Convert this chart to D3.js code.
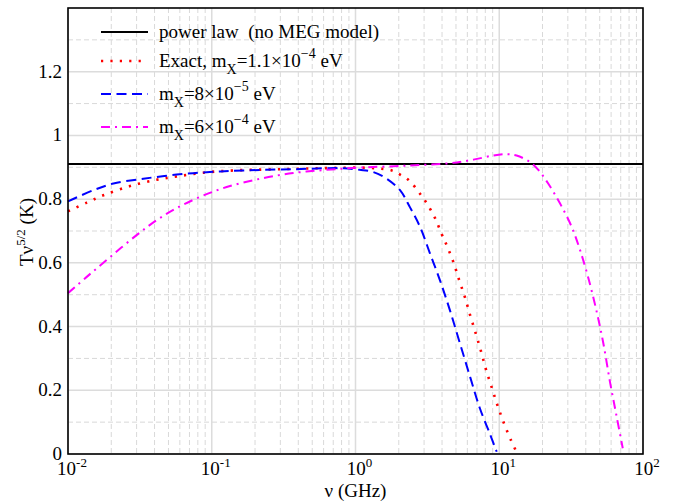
<!DOCTYPE html>
<html>
<head>
<meta charset="utf-8">
<script src="https://cdn.jsdelivr.net/npm/d3@7"></script>
<style>
  body { margin: 0; background: #fff; }
</style>
</head>
<body>
<svg id="chart"></svg>
<script>
// power law reference level
const powerLaw = 0.91;

// exact, m_X = 1.1e-4 eV (red dotted)
const exactNu = [0.01, 0.0135, 0.0176, 0.027, 0.0414, 0.057, 0.0873, 0.141, 0.3, 0.63, 1.26, 1.79, 2.04, 2.33, 2.81, 3.09, 3.57, 3.98, 4.31, 4.79, 5.27, 5.78, 6.27, 6.89, 7.46, 8.09, 8.91, 9.75, 10.8, 12.1, 13.0];
const exactT  = [0.762, 0.789, 0.812, 0.841, 0.861, 0.871, 0.883, 0.890, 0.894, 0.8975, 0.898, 0.890, 0.877, 0.861, 0.817, 0.791, 0.741, 0.690, 0.655, 0.603, 0.545, 0.491, 0.436, 0.376, 0.323, 0.265, 0.206, 0.151, 0.096, 0.042, 0.012];

// m_X = 8e-5 eV (blue dashed)
const lowNu = [0.01, 0.015, 0.0207, 0.0334, 0.057, 0.097, 0.166, 0.369, 0.822, 1.07, 1.33, 1.65, 2.04, 2.39, 2.81, 3.30, 3.87, 4.54, 5.33, 6.27, 7.35, 8.63, 9.6];
const lowT  = [0.793, 0.828, 0.849, 0.864, 0.877, 0.885, 0.890, 0.894, 0.897, 0.892, 0.885, 0.864, 0.828, 0.775, 0.713, 0.629, 0.545, 0.451, 0.347, 0.242, 0.142, 0.062, 0.007];

// m_X = 6e-4 eV (magenta dash-dot)
const highNu = [0.01, 0.0135, 0.0196, 0.030, 0.0414, 0.057, 0.0828, 0.127, 0.217, 0.369, 0.63, 1.07, 2.27, 4.54, 6.61, 9.08, 11.3, 13.2, 16.4, 18.7, 21.9, 26.5, 31.9, 36.5, 41.7, 47.6, 53.0, 59.0, 65.6, 72.3];
const highT  = [0.505, 0.556, 0.618, 0.687, 0.734, 0.772, 0.807, 0.838, 0.864, 0.882, 0.892, 0.899, 0.905, 0.913, 0.924, 0.937, 0.941, 0.937, 0.916, 0.892, 0.849, 0.786, 0.713, 0.64, 0.552, 0.447, 0.347, 0.225, 0.117, 0.018];

const xMajor = [0.01, 0.1, 1, 10, 100];
const xExp = ["-2", "-1", "0", "1", "2"];
const yMajor = [0, 0.2, 0.4, 0.6, 0.8, 1, 1.2];
const yMinor = [0.1, 0.3, 0.5, 0.7, 0.9, 1.1, 1.3];

const width = 675, height = 502;
const margin = { top: 8, right: 32, bottom: 48, left: 68 };
const innerWidth = width - margin.left - margin.right;
const innerHeight = height - margin.top - margin.bottom;
const serif = "'Liberation Serif', 'DejaVu Serif', Times, serif";

const svg = d3.select("#chart").attr("width", width).attr("height", height)
  .style("font-family", serif);
svg.append("rect").attr("width", width).attr("height", height).attr("fill", "#fff");

const g = svg.append("g").attr("transform", `translate(${margin.left},${margin.top})`);

const x = d3.scaleLog().domain([0.01, 100]).range([0, innerWidth]);
const y = d3.scaleLinear().domain([0, 1.4]).range([innerHeight, 0]);

// minor x grid: 2..9 inside each decade
const xMinor = [];
xMajor.slice(0, -1).forEach(d => { for (let k = 2; k <= 9; k++) xMinor.push(d * k); });

g.append("g").selectAll("line").data(xMinor).enter().append("line")
  .attr("x1", d => x(d)).attr("x2", d => x(d)).attr("y1", 0).attr("y2", innerHeight)
  .attr("stroke", "#d9d9d9").attr("stroke-width", 1).attr("stroke-dasharray", "5,3");
g.append("g").selectAll("line").data(yMinor).enter().append("line")
  .attr("x1", 0).attr("x2", innerWidth).attr("y1", d => y(d)).attr("y2", d => y(d))
  .attr("stroke", "#d9d9d9").attr("stroke-width", 1).attr("stroke-dasharray", "5,3");
g.append("g").selectAll("line").data(xMajor).enter().append("line")
  .attr("x1", d => x(d)).attr("x2", d => x(d)).attr("y1", 0).attr("y2", innerHeight)
  .attr("stroke", "#dcdcdc").attr("stroke-width", 1.5);
g.append("g").selectAll("line").data(yMajor).enter().append("line")
  .attr("x1", 0).attr("x2", innerWidth).attr("y1", d => y(d)).attr("y2", d => y(d))
  .attr("stroke", "#dcdcdc").attr("stroke-width", 1.5);

// curves
const line = d3.line().x(d => x(d[0])).y(d => y(d[1])).curve(d3.curveCatmullRom.alpha(0.5));
const series = [
  { nu: exactNu, t: exactT, color: "#ff0000", dash: "2.2,7.2", w: 2.6 },
  { nu: lowNu, t: lowT, color: "#0000ff", dash: "10,5.5", w: 2 },
  { nu: highNu, t: highT, color: "#ff00ff", dash: "9,5,2,5", w: 2 }
];

g.append("line")
  .attr("x1", 0).attr("x2", innerWidth)
  .attr("y1", y(powerLaw)).attr("y2", y(powerLaw))
  .attr("stroke", "#000").attr("stroke-width", 2);

series.forEach(s => {
  g.append("path")
    .datum(d3.zip(s.nu, s.t))
    .attr("d", line)
    .attr("fill", "none")
    .attr("stroke", s.color)
    .attr("stroke-width", s.w)
    .attr("stroke-dasharray", s.dash);
});

// frame
g.append("rect").attr("width", innerWidth).attr("height", innerHeight)
  .attr("fill", "none").attr("stroke", "#000").attr("stroke-width", 1.6);

// x tick labels
const xl = g.append("g").selectAll("text").data(xMajor).enter().append("text")
  .attr("x", d => x(d) + 4).attr("y", innerHeight + 21)
  .attr("text-anchor", "middle").style("font-size", "19px");
xl.append("tspan").text("10");
xl.append("tspan").attr("dy", -8).style("font-size", "13px").text((d, i) => xExp[i]);

// y tick labels
g.append("g").selectAll("text").data(yMajor).enter().append("text")
  .attr("x", -6).attr("y", d => y(d) + 6)
  .attr("text-anchor", "end").style("font-size", "19px")
  .text(d => d3.format("~g")(d));

// axis titles
svg.append("text").attr("x", margin.left + innerWidth / 2).attr("y", 497)
  .attr("text-anchor", "middle").style("font-size", "19px").text("ν (GHz)");

const yt = svg.append("text")
  .attr("transform", "translate(33,232) rotate(-90)")
  .attr("text-anchor", "middle").style("font-size", "19px");
yt.append("tspan").text("Tν");
yt.append("tspan").attr("dy", -8).style("font-size", "13px").text("5/2");
yt.append("tspan").attr("dy", 8).text(" (K)");

// legend
const legend = g.append("g").attr("transform", "translate(33,24)");
const legendRows = [
  { color: "#000", dash: null, w: 2 },
  series[0], series[1], series[2]
];
const rowY = [0, 29, 62, 95];
legendRows.forEach((s, i) => {
  legend.append("line")
    .attr("x1", 0).attr("x2", 47).attr("y1", rowY[i]).attr("y2", rowY[i])
    .attr("stroke", s.color).attr("stroke-width", s.w)
    .attr("stroke-dasharray", s.dash);
});

function legendText(i) {
  return legend.append("text").attr("x", 58).attr("y", rowY[i] + 6).style("font-size", "19px");
}
legendText(0).text("power law  (no MEG model)").style("white-space", "pre");

function massLabel(t, prefix, mant, exp) {
  t.append("tspan").text(prefix + "m");
  t.append("tspan").attr("dy", 7).style("font-size", "14px").text("X");
  t.append("tspan").attr("dy", -7).text("=" + mant + "×10");
  t.append("tspan").attr("dy", -9).style("font-size", "14px").text("−" + exp);
  t.append("tspan").attr("dy", 9).text(" eV");
}
massLabel(legendText(1), "Exact, ", "1.1", "4");
massLabel(legendText(2), "", "8", "5");
massLabel(legendText(3), "", "6", "4");
</script>
</body>
</html>
